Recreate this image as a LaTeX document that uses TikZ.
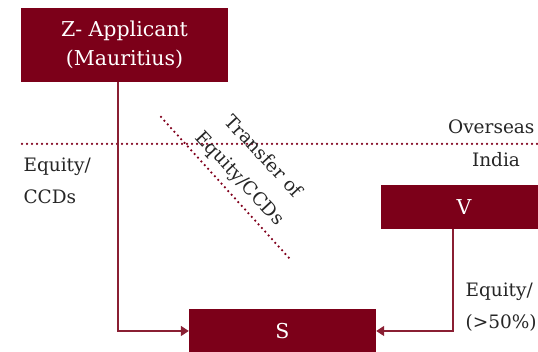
\documentclass[tikz,border=0pt]{standalone}
\usepackage{fontspec}
\setmainfont{DejaVu Serif}
\usetikzlibrary{positioning, arrows.meta}
\definecolor{boxred}{HTML}{7C0019}
\definecolor{linered}{HTML}{8A1F33}
\definecolor{dotred}{HTML}{80001C}
\definecolor{labelgray}{HTML}{262626}

\begin{document}
\begin{tikzpicture}[
  x=1pt, y=1pt,
  entity/.style={fill=boxred, text=white, inner sep=0pt, font=\fontsize{20.5}{29}\selectfont,
                 align=center},
  arrow/.style={-{Triangle[length=8pt, width=10pt]}, line width=1.5pt, draw=linered},
  border/.style={line width=2.5pt, draw=dotred, line cap=round, dash pattern=on 0pt off 5pt},
  label/.style={font=\fontsize{18.5}{32}\selectfont, text=labelgray, align=left},
]
  \useasboundingbox (0,0) rectangle (538,352);
  % Applicant
  \node[entity, minimum width=207pt, minimum height=74pt] (z) at (124.5,307)
    {Z- Applicant\\(Mauritius)};
  % Target
  \node[entity, minimum width=187pt, minimum height=44pt] (s) at (282.5,21) {S};
  % Indian holding
  \node[entity, minimum width=166pt, minimum height=44pt] (v) at (464,145) {V};
  % Border line
  \coordinate (bl) at (22,208);
  \coordinate (br) at (540,208);
  \draw[border] (bl) -- (br);
  \node[label, anchor=east] (overseas) at (538,225) {Overseas};
  \node[label] (india) at (496,192) {India};
  % Transfer line
  \coordinate (t1) at (161,235);
  \coordinate (t2) at (290,93);
  \draw[border] (t1) -- (t2);
  \node[label, align=center, rotate=-47] (transfer) at (251,184)
    {Transfer of\\Equity/CCDs};
  % Arrows
  \draw[arrow] ([xshift=-6.5pt]z.south) |- (s.west);
  \draw[arrow] ([xshift=-11pt]v.south) |- (s.east);
  % Labels
  \node[label, anchor=north west] (eq1) at (20,198) {Equity/\\CCDs};
  \node[label, anchor=north west] (eq2) at (462,73) {Equity/\\(>50\%)};
\end{tikzpicture}
\end{document}
